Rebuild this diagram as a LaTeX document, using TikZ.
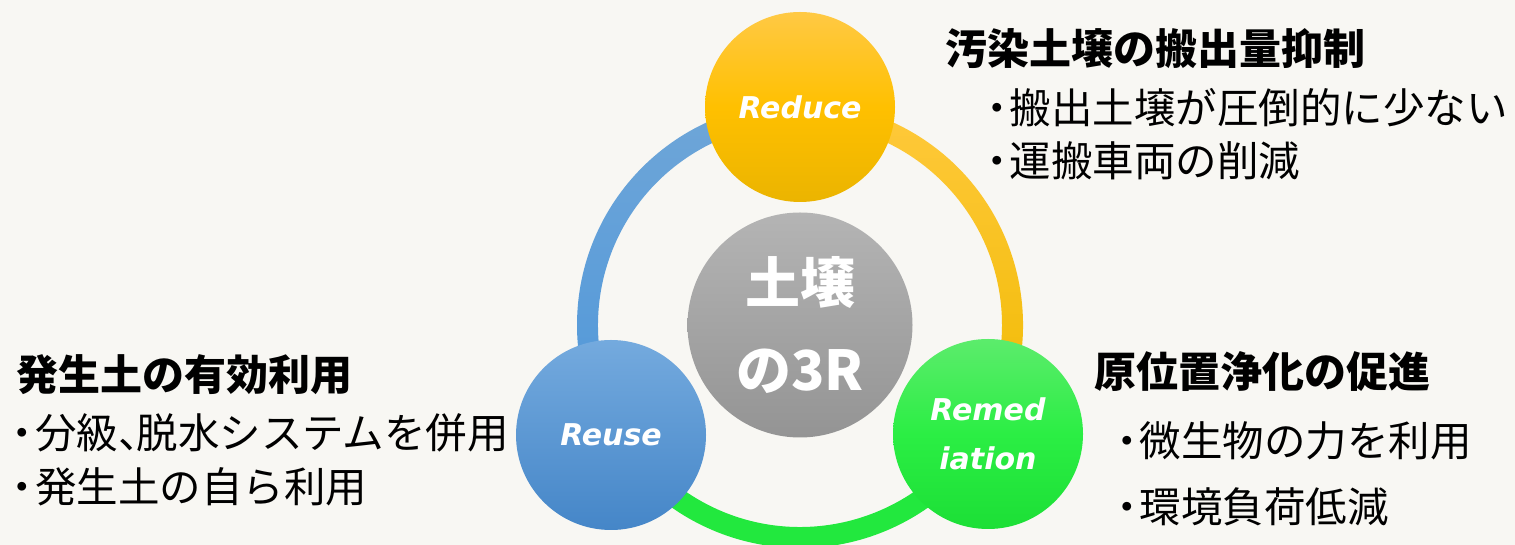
\documentclass[tikz,border=0pt]{standalone}
\usepackage{fontspec}
\newfontfamily\jp{Noto Sans CJK JP}
\newfontfamily\lat{DejaVu Sans}
\usetikzlibrary{calc}
\definecolor{bg}{HTML}{F8F7F3}
\definecolor{redT}{HTML}{FFC944}
\definecolor{redM}{HTML}{FFC000}
\definecolor{redB}{HTML}{EBB400}
\definecolor{grayT}{HTML}{B4B4B4}
\definecolor{grayB}{HTML}{949494}
\definecolor{reuT}{HTML}{74AADE}
\definecolor{reuB}{HTML}{4586C8}
\definecolor{remT}{HTML}{5CEC6C}
\definecolor{remM}{HTML}{2BEE44}
\definecolor{remB}{HTML}{1CDF36}
\definecolor{blueArcT}{HTML}{6FA6D8}
\definecolor{blueArcB}{HTML}{4F97DA}
\definecolor{orArcT}{HTML}{FFC93C}
\definecolor{orArcB}{HTML}{F0BA00}
\definecolor{grArc}{HTML}{22E83E}
\newcommand\mybul{\hspace*{-0.25em}・\hspace*{-0.2em}}
\begin{document}
\begin{tikzpicture}[x=1pt,y=1pt,
  ball/.style={circle, minimum size=190pt, inner sep=0pt, draw=none, text=white, align=center,
    font=\lat\bfseries\itshape\fontsize{30}{49.5}\selectfont},
  head/.style={anchor=west, inner sep=0pt, text=black, font=\jp\bfseries\fontsize{42}{50}\selectfont},
  item/.style={anchor=west, inner sep=0pt, text=black, font=\jp\fontsize{41.5}{50}\selectfont}]
\fill[bg] (0,0) rectangle (1515,545);
\useasboundingbox (0,0) rectangle (1515,545);
\coordinate (c) at (800,220);
% ring arcs
\shade[top color=blueArcT, bottom color=blueArcB]
  ($(c)+(90:223)$) arc[start angle=90, end angle=210, radius=223]
  -- ($(c)+(210:202)$) arc[start angle=210, end angle=90, radius=202] -- cycle;
\shade[top color=orArcT, bottom color=orArcB]
  ($(c)+(-30:223)$) arc[start angle=-30, end angle=90, radius=223]
  -- ($(c)+(90:202)$) arc[start angle=90, end angle=-30, radius=202] -- cycle;
\fill[grArc]
  ($(c)+(210:223)$) arc[start angle=210, end angle=330, radius=223]
  -- ($(c)+(330:202)$) arc[start angle=330, end angle=210, radius=202] -- cycle;
% circles
\node[ball, top color=redT, bottom color=redB, middle color=redM] (reduce) at (800,438) {Reduce};
\node[ball, minimum size=225pt, top color=grayT, bottom color=grayB,
  font=\jp\bfseries\fontsize{55}{87}\selectfont] (soil) at (c) {土壌\\の3R};
\node[ball, top color=reuT, bottom color=reuB] (reuse) at (611,110) {Reuse};
\node[ball, top color=remT, bottom color=remB, middle color=remM] (remed) at (988,111) {Remed\\iation};
% texts
\node[head] (h1) at (945,496.5) {汚染土壌の搬出量抑制};
\node[item] (h1a) at (986.5,437.5) {\mybul 搬出土壌が圧倒的に少ない};
\node[item] (h1b) at (986.5,384) {\mybul 運搬車両の削減};
\node[head] (h2) at (16,170.5) {発生土の有効利用};
\node[item] (h2a) at (12,112) {\mybul 分級、\hspace*{-0.55em}脱水システムを併用};
\node[item] (h2b) at (12,58) {\mybul 発生土の自ら利用};
\node[head] (h3) at (1094,173) {原位置浄化の促進};
\node[item] (h3a) at (1116.5,104) {\mybul 微生物の力を利用};
\node[item] (h3b) at (1116.5,38) {\mybul 環境負荷低減};
\end{tikzpicture}
\end{document}
